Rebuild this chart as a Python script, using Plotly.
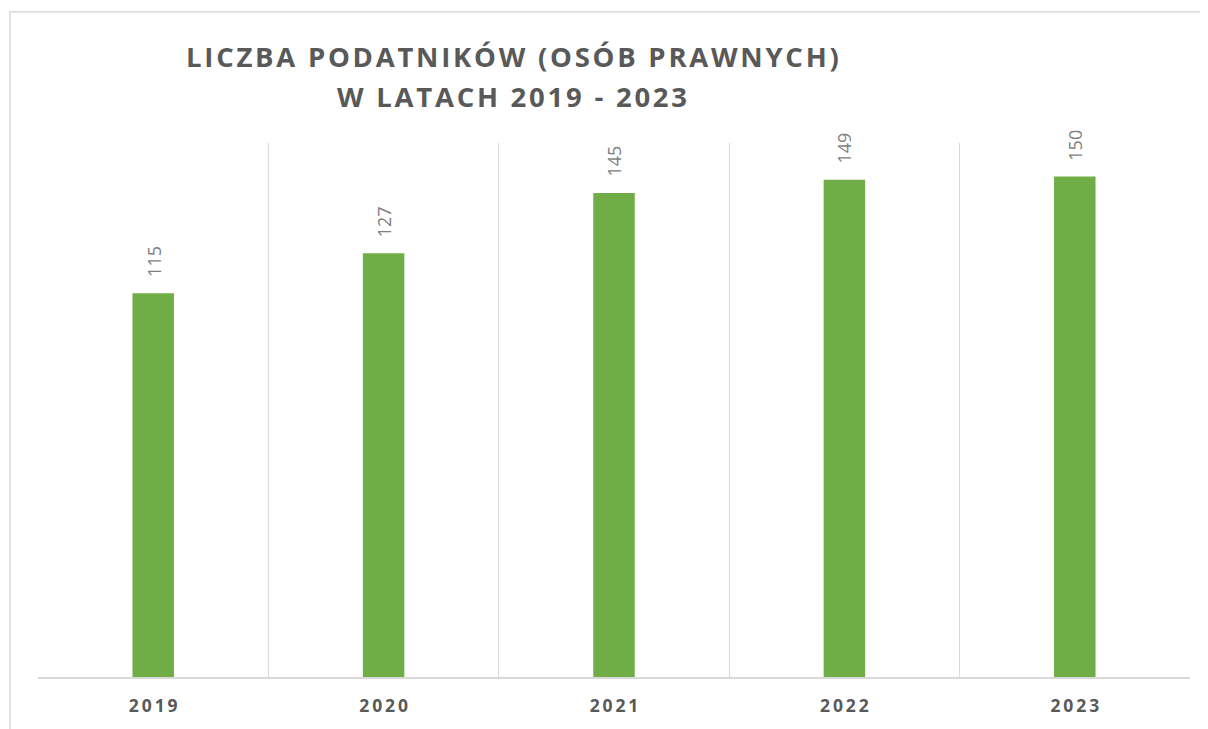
import plotly.graph_objects as go

years = ["2019", "2020", "2021", "2022", "2023"]
values = [115, 127, 145, 149, 150]
title_lines = ["LICZBA PODATNIKÓW (OSÓB PRAWNYCH)", "W LATACH 2019 - 2023"]

# page body has an 8px margin; work in window pixels and shift
OFF = 8
W, H = 1208 - OFF, 729 - OFF
L, R, T, B = 38 - OFF, 1208 - 1190, 143 - OFF, 729 - 680
pw, ph = W - L - R, H - T - B

def spaced(s, sep="\u2009"):
    return sep.join(list(s))

def px_x(x):
    return (x - OFF - L) / pw

def px_y(y):
    return (H - B - (y - OFF)) / ph

fig = go.Figure()
fig.add_trace(go.Bar(
    x=years, y=values, width=0.18,
    marker=dict(color="#70AD47", line=dict(width=0)),
    hoverinfo="skip",
))

for i, v in enumerate(values):
    fig.add_annotation(
        x=i, y=v, xref="x", yref="y", text=str(v), textangle=-90, showarrow=False,
        yanchor="bottom", xanchor="center", yshift=14,
        font=dict(family="Open Sans", size=18, color="#7f7f7f"),
    )

# title
title_y = [56, 96]
for line, ty in zip(title_lines, title_y):
    fig.add_annotation(
        xref="paper", yref="paper",
        x=px_x(512), y=px_y(ty),
        text="<b>" + spaced(line, "\u200a") + "</b>", showarrow=False,
        xanchor="center", yanchor="middle",
        font=dict(family="Open Sans", size=27.5, color="#595959"),
    )

# outer frame
fig.add_shape(
    type="rect", xref="paper", yref="paper",
    x0=px_x(10), x1=px_x(1215),
    y0=px_y(740), y1=px_y(11),
    line=dict(color="#d9d9d9", width=1.5), fillcolor="rgba(0,0,0,0)", layer="below",
)

fig.update_layout(
    width=W, height=H,
    margin=dict(l=L, r=R, t=T, b=B),
    paper_bgcolor="white", plot_bgcolor="white",
    showlegend=False,
    xaxis=dict(
        type="category", tickson="boundaries",
        tickvals=years, ticktext=["<b>" + spaced(y, "\u2009") + "</b>" for y in years],
        tickfont=dict(family="Open Sans", size=17.5, color="#595959"),
        showgrid=True, gridcolor="#d9d9d9", gridwidth=1,
        showline=True, linecolor="#d9d9d9", linewidth=1.5,
        ticks="", ticklabelstandoff=12, range=[-0.5, 4.5],
    ),
    yaxis=dict(range=[0, 160], showticklabels=False, showgrid=False,
               zeroline=False, showline=False, ticks=""),
)

fig.write_html("out.html")
